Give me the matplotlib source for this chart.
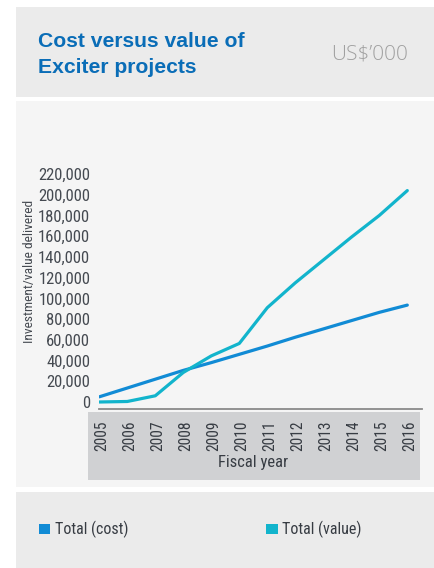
import matplotlib
matplotlib.use("Agg")
import matplotlib.pyplot as plt
from matplotlib import font_manager
from matplotlib.patches import Rectangle
from matplotlib.ticker import FuncFormatter
from matplotlib.transforms import ScaledTranslation

# Fiscal years and totals (US$'000)
years = [2005, 2006, 2007, 2008, 2009, 2010, 2011, 2012, 2013, 2014, 2015, 2016]
total_cost = [5000, 13500, 22000, 30500, 38000, 46000, 54000, 62500, 70500, 78500, 86500, 93500]
total_value = [0, 500, 6000, 28500, 44500, 56500, 91000, 115000, 137000, 159000, 180000, 204000]
y_ticks = [0, 20000, 40000, 60000, 80000, 100000, 120000, 140000, 160000, 180000, 200000, 220000]

W, H = 434, 568
DPI = 100

# pick a condensed face for the chart labels if one is installed
installed = {f.name for f in font_manager.fontManager.ttflist}
narrow_name = next((n for n in ["Liberation Sans Narrow", "Roboto Condensed",
                                "Open Sans Condensed", "Noto Sans Condensed",
                                "DejaVu Sans Condensed"] if n in installed), None)
NARROW = [narrow_name, "Liberation Sans"] if narrow_name else ["Liberation Sans"]
SANS = ["Liberation Sans", "DejaVu Sans"]
LIGHT = ["Open Sans", "Roboto", "Liberation Sans"]
NSIZE = 12 if narrow_name else 10.5

COST_C = "#118bd5"
VALUE_C = "#12b4cc"
TEXT_C = "#454a51"
DARK_C = "#373c43"

fig = plt.figure(figsize=(W / DPI, H / DPI), dpi=DPI)
fig.patch.set_facecolor("white")


def fx(x):
    return x / W


def fy(y):
    return 1 - y / H


def panel(x0, y0, x1, y1, color, z=-10):
    fig.patches.append(Rectangle((fx(x0), fy(y1)), fx(x1) - fx(x0), fy(y0) - fy(y1),
                                 transform=fig.transFigure, facecolor=color,
                                 edgecolor="none", zorder=z))


# background panels
panel(16, 7, 434, 97, "#ebebeb")
panel(16, 101, 434, 487, "#f5f5f5")
panel(16, 492, 434, 568, "#ebebeb")
panel(88, 412, 420, 480, "#d0d1d3", z=-9)

# header
fig.text(fx(38), fy(46.7), "Cost versus value of", family=SANS, fontweight="bold",
         fontsize=15.2, color="#0a6db7", va="baseline", ha="left")
fig.text(fx(38), fy(72.7), "Exciter projects", family=SANS, fontweight="bold",
         fontsize=15.2, color="#0a6db7", va="baseline", ha="left")
fig.text(fx(408), fy(59.5), "US$\u2019000", family=LIGHT, fontweight="light",
         fontsize=15, color="#a0a0a0", va="baseline", ha="right")

# plot area
x_left, x_right = 99.3, 422
step = 28.0
xlim = (2005, 2005 + (x_right - x_left) / step)
y_zero, px_per_unit = 402, 228 / 220000
y_top, y_bottom = 165, 409
ylim = (-(y_bottom - y_zero) / px_per_unit, (y_zero - y_top) / px_per_unit)

ax = fig.add_axes([fx(x_left), fy(y_bottom), fx(x_right) - fx(x_left), fy(y_top) - fy(y_bottom)])
ax.set_facecolor("none")
ax.plot(years, total_cost, color=COST_C, lw=2.3, solid_capstyle="round", zorder=3)
ax.plot(years, total_value, color=VALUE_C, lw=2.3, solid_capstyle="round", zorder=3)
ax.set_xlim(*xlim)
ax.set_ylim(*ylim)

for s in ["top", "right", "left"]:
    ax.spines[s].set_visible(False)
ax.spines["bottom"].set_color("#8a8a8a")
ax.spines["bottom"].set_linewidth(1.3)

ax.set_yticks(y_ticks)
ax.yaxis.set_major_formatter(FuncFormatter(lambda v, p: f"{int(v):,}"))
ax.set_xticks(years)
ax.set_xticklabels([str(y) for y in years])
ax.tick_params(axis="y", length=0, pad=6.5, labelsize=NSIZE, labelcolor=TEXT_C)
ax.tick_params(axis="x", length=0, pad=8, labelsize=NSIZE - 0.8, labelcolor=DARK_C, rotation=90)
for lab in ax.get_yticklabels():
    lab.set_family(NARROW)
shift = ScaledTranslation(2.5 / DPI, 0, fig.dpi_scale_trans)
for lab in ax.get_xticklabels():
    lab.set_family(NARROW)
    lab.set_transform(lab.get_transform() + shift)

fig.text(fx(253), fy(463), "Fiscal year", family=NARROW, fontsize=NSIZE,
         color=DARK_C, ha="center", va="center")
fig.text(fx(30), fy(271), "Investment/value delivered", family=NARROW,
         fontsize=9.6, color=TEXT_C, ha="center", va="center", rotation=90)

# legend
panel(38.5, 523.5, 50, 534, COST_C, z=-8)
fig.text(fx(55), fy(529), "Total (cost)", family=NARROW, fontsize=NSIZE - 0.5,
         color=DARK_C, ha="left", va="center")
panel(266, 523.5, 277.5, 534, VALUE_C, z=-8)
fig.text(fx(282), fy(529), "Total (value)", family=NARROW, fontsize=NSIZE - 0.5,
         color=DARK_C, ha="left", va="center")

fig.savefig("out.png", dpi=DPI)
